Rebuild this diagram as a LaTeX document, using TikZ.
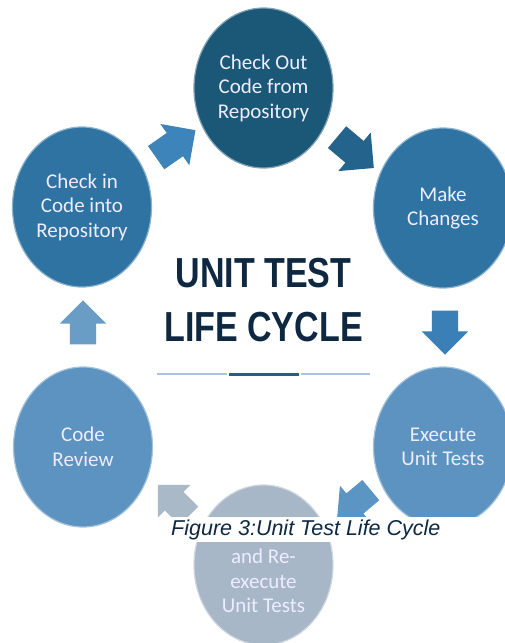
\documentclass[tikz,border=0pt]{standalone}
\usepackage{fontspec}
\setmainfont{Carlito}
\newfontfamily\titlefont{Liberation Sans}
\usetikzlibrary{shapes.geometric, shapes.arrows}
\definecolor{navy}{HTML}{0E2841}
\definecolor{deepblue}{HTML}{1B5878}
\definecolor{midblue}{HTML}{2F73A3}
\definecolor{softblue}{HTML}{5C93C0}
\definecolor{greyblue}{HTML}{A7B7C7}
\definecolor{rulelight}{HTML}{A9C4E0}
\definecolor{ruledark}{HTML}{2A5A90}
\definecolor{arrowA}{HTML}{3C84BA}
\definecolor{arrowB}{HTML}{24648C}
\definecolor{arrowC}{HTML}{3A80B6}
\definecolor{arrowD}{HTML}{5B95C4}
\definecolor{arrowE}{HTML}{A9B9C8}
\definecolor{arrowF}{HTML}{6A9DC6}

\begin{document}
\begin{tikzpicture}[
        x=1pt, y=-1pt,
        stage/.style={ellipse, fill=#1, draw=#1!55!white, line width=1.2pt, minimum width=139pt, minimum height=160pt, inner sep=0pt},
        stagetext/.style={align=center, text=white!93!blue, font=\fontsize{21}{24.5}\selectfont},
        flow/.style={single arrow, fill=#1, single arrow head extend=10pt, minimum height=44pt, inner xsep=0pt, inner ysep=13pt},
        bigflow/.style={flow=#1, single arrow head extend=11pt, minimum height=48pt, inner ysep=14pt},
        titleline/.style={text=navy, font=\titlefont\bfseries\fontsize{42}{47}\selectfont, xscale=0.81, inner sep=0pt}
    ]
    \clip (0,0) rectangle (505,643);

    % stages
    \node[stage=deepblue] (checkout) at (263.5,88) {};
    \node[stage=midblue] (changes) at (443,208) {};
    \node[stage=softblue] (execute) at (443,447) {};
    \node[stage=greyblue] (fixbugs) at (263.5,565) {};
    \node[stage=softblue] (review) at (83,447) {};
    \node[stage=midblue] (checkin) at (82,207) {};

    \node[stagetext] at (checkout) {Check Out\\Code from\\Repository};
    \node[stagetext] at (changes) {Make\\Changes};
    \node[stagetext] at (execute) {Execute\\Unit Tests};
    \node[stagetext] at ([yshift=-16pt]fixbugs.center) {and Re-\\execute\\Unit Tests};
    \node[stagetext] at (review) {Code\\Review};
    \node[stagetext] at (checkin) {Check in\\Code into\\Repository};

    % arrows between stages
    \node[bigflow=arrowA, rotate=35] (toout) at (170,148) {};
    \node[bigflow=arrowB, rotate=-40] (tochanges) at (350,148) {};
    \node[flow=arrowC, rotate=-90] (toexecute) at (445,326) {};
    \node[flow=arrowD, rotate=220] (tofix) at (359,500) {};
    \node[flow=arrowE, rotate=135] (toreview) at (178,505) {};
    \node[flow=arrowF, rotate=90] (tocheckin) at (83,329) {};

    % title
    \node[titleline] (titletop) at (263.5,273) {UNIT TEST};
    \node[titleline] (titlebottom) at (263.5,327) {LIFE CYCLE};
    \draw[rulelight, line width=2pt] (157,374) -- (227,374);
    \draw[ruledark, line width=3pt] (229,374) -- (299,374);
    \draw[rulelight, line width=2pt] (301,374) -- (370,374);

    % caption
    \node[fill=white, inner sep=0pt, minimum width=337pt, minimum height=25pt, anchor=north west] (capbox) at (168,517) {};
    \node[anchor=west, inner sep=0pt, text=navy, font=\titlefont\itshape\fontsize{21.5}{25}\selectfont] (caption) at (171,530) {Figure 3:Unit Test Life Cycle};

\end{tikzpicture}
\end{document}
